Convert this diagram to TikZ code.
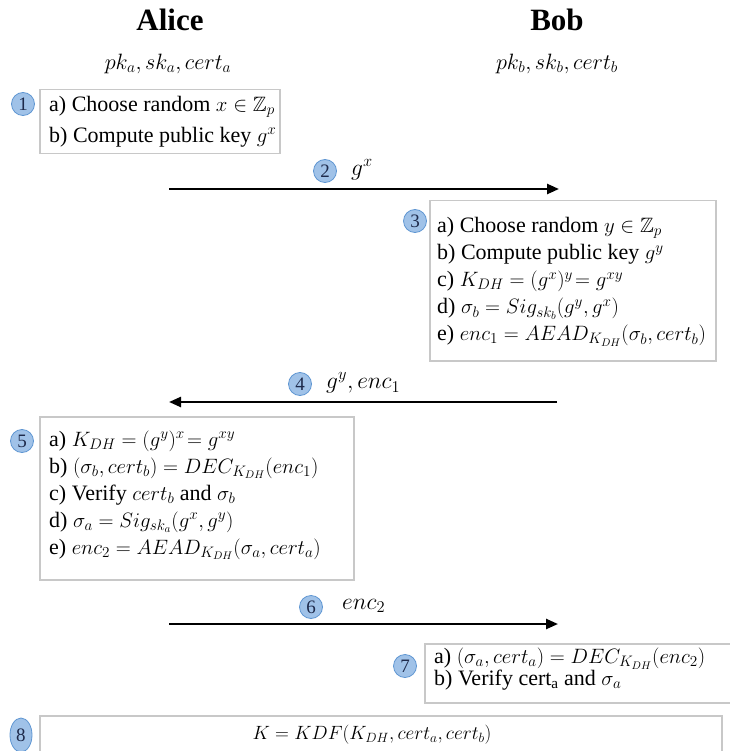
\RequirePackage{fix-cm}
\documentclass[tikz,border=0pt]{standalone}
\usepackage{amsmath,amssymb}
\usepackage{fontspec}
\setmainfont{Liberation Serif}
% step text is set at 22pt with its formulas slightly smaller
\DeclareMathSizes{22}{20.8}{15.2}{11}
\usetikzlibrary{arrows.meta,shapes.geometric}

\definecolor{boxgray}{RGB}{200,200,200}
\definecolor{numfill}{RGB}{160,194,232}
\definecolor{numline}{RGB}{95,150,210}
\definecolor{numtext}{RGB}{30,42,75}

\tikzset{
  stepbox/.style={draw=boxgray, line width=1.5pt, anchor=north west, inner sep=0pt},
  steptext/.style={anchor=west, inner sep=0pt, align=left,
    font=\fontsize{22}{27}\selectfont},
  num/.style={circle, draw=numline, fill=numfill, line width=0.8pt,
    minimum size=23pt, inner sep=0pt, text=numtext,
    font=\fontsize{19}{19}\selectfont},
  msg/.style={line width=2.4pt, -{Triangle[length=12pt,width=10pt]}},
  party/.style={font=\fontsize{31}{31}\selectfont\bfseries},
  keys/.style={font=\fontsize{22.2}{22.2}\selectfont},
  lbl/.style={anchor=west, font=\fontsize{23.5}{23.5}\selectfont, inner sep=0pt},
}

\begin{document}
\begin{tikzpicture}[x=1pt,y=-1pt]
\useasboundingbox (0,0) rectangle (729,751);

% parties and their key material
\node[party] (alice) at (170,20) {Alice};
\node[party] (bob)   at (557,20) {Bob};
\node[keys] (keysA) at (168,64) {$pk_a, sk_a, cert_a$};
\node[keys] (keysB) at (557,64) {$pk_b, sk_b, cert_b$};

% step 1
\node[stepbox, minimum width=240pt, minimum height=64pt] (s1) at (39,89) {};
\node[steptext, font=\fontsize{22}{31}\selectfont] (t1) at ([xshift=10pt]s1.west)
  {a) Choose random $x \in \mathbb{Z}_p$\\ b) Compute public key $g^x$};
\node[num] (n1) at (23,104) {1};

% step 2
\coordinate (m2s) at (169,189);
\coordinate (m2e) at (559,189);
\draw[msg] (m2s) -- (m2e);
\node[num] (n2) at (325,171) {2};
\node[lbl] (l2) at (351,170) {$g^x$};

% step 3
\node[stepbox, minimum width=286pt, minimum height=160pt] (s3) at (429,200) {};
\node[steptext] (t3) at ([xshift=8pt,yshift=-1pt]s3.west)
  {a) Choose random $y \in \mathbb{Z}_p$\\
   b) Compute public key $g^y$\\
   c) $K_{DH} = (g^x)^y\!= g^{xy}$\\
   d) $\sigma_b = Sig_{sk_b}(g^y, g^x)$\\
   e) $enc_1 = AEAD_{K_{DH}}(\sigma_b, cert_b)$};
\node[num] (n3) at (415,221) {3};

% step 4
\coordinate (m4s) at (557,402);
\coordinate (m4e) at (169,402);
\draw[msg] (m4s) -- (m4e);
\node[num] (n4) at (300,384) {4};
\node[lbl] (l4) at (326,383) {$g^y, enc_1$};

% step 5
\node[stepbox, minimum width=314pt, minimum height=163pt] (s5) at (39,416) {};
\node[steptext] (t5) at ([xshift=10pt,yshift=3pt]s5.west)
  {a) $K_{DH} = (g^y)^x\!= g^{xy}$\\
   b) $(\sigma_b, cert_b) = DEC_{K_{DH}}(enc_1)$\\
   c) Verify $cert_b$ and $\sigma_b$\\
   d) $\sigma_a = Sig_{sk_a}(g^x, g^y)$\\
   e) $enc_2 = AEAD_{K_{DH}}(\sigma_a, cert_a)$};
\node[num] (n5) at (22,441) {5};

% step 6
\coordinate (m6s) at (169,624);
\coordinate (m6e) at (558,624);
\draw[msg] (m6s) -- (m6e);
\node[num] (n6) at (311,607) {6};
\node[lbl] (l6) at (342,606) {$enc_2$};

% step 7
\node[stepbox, minimum width=320pt, minimum height=59pt] (s7) at (424,643) {};
\node[steptext, font=\fontsize{22}{22}\selectfont] (t7) at ([xshift=10pt,yshift=4pt]s7.west)
  {a) $(\sigma_a, cert_a) = DEC_{K_{DH}}(enc_2)$\\
   b) Verify cert$_{\mathrm{a}}$ and $\sigma_a$};
\node[num] (n7) at (405,666) {7};

% step 8: session key
\node[stepbox, minimum width=682pt, minimum height=44pt] (s8) at (39,715) {};
\node[font=\fontsize{19.2}{19.2}\selectfont] (k8) at (372,735) {$K = KDF(K_{DH}, cert_a, cert_b)$};
\node[num, ellipse, minimum width=22pt, minimum height=34pt] (n8) at (21,735) {8};
\end{tikzpicture}
\end{document}
